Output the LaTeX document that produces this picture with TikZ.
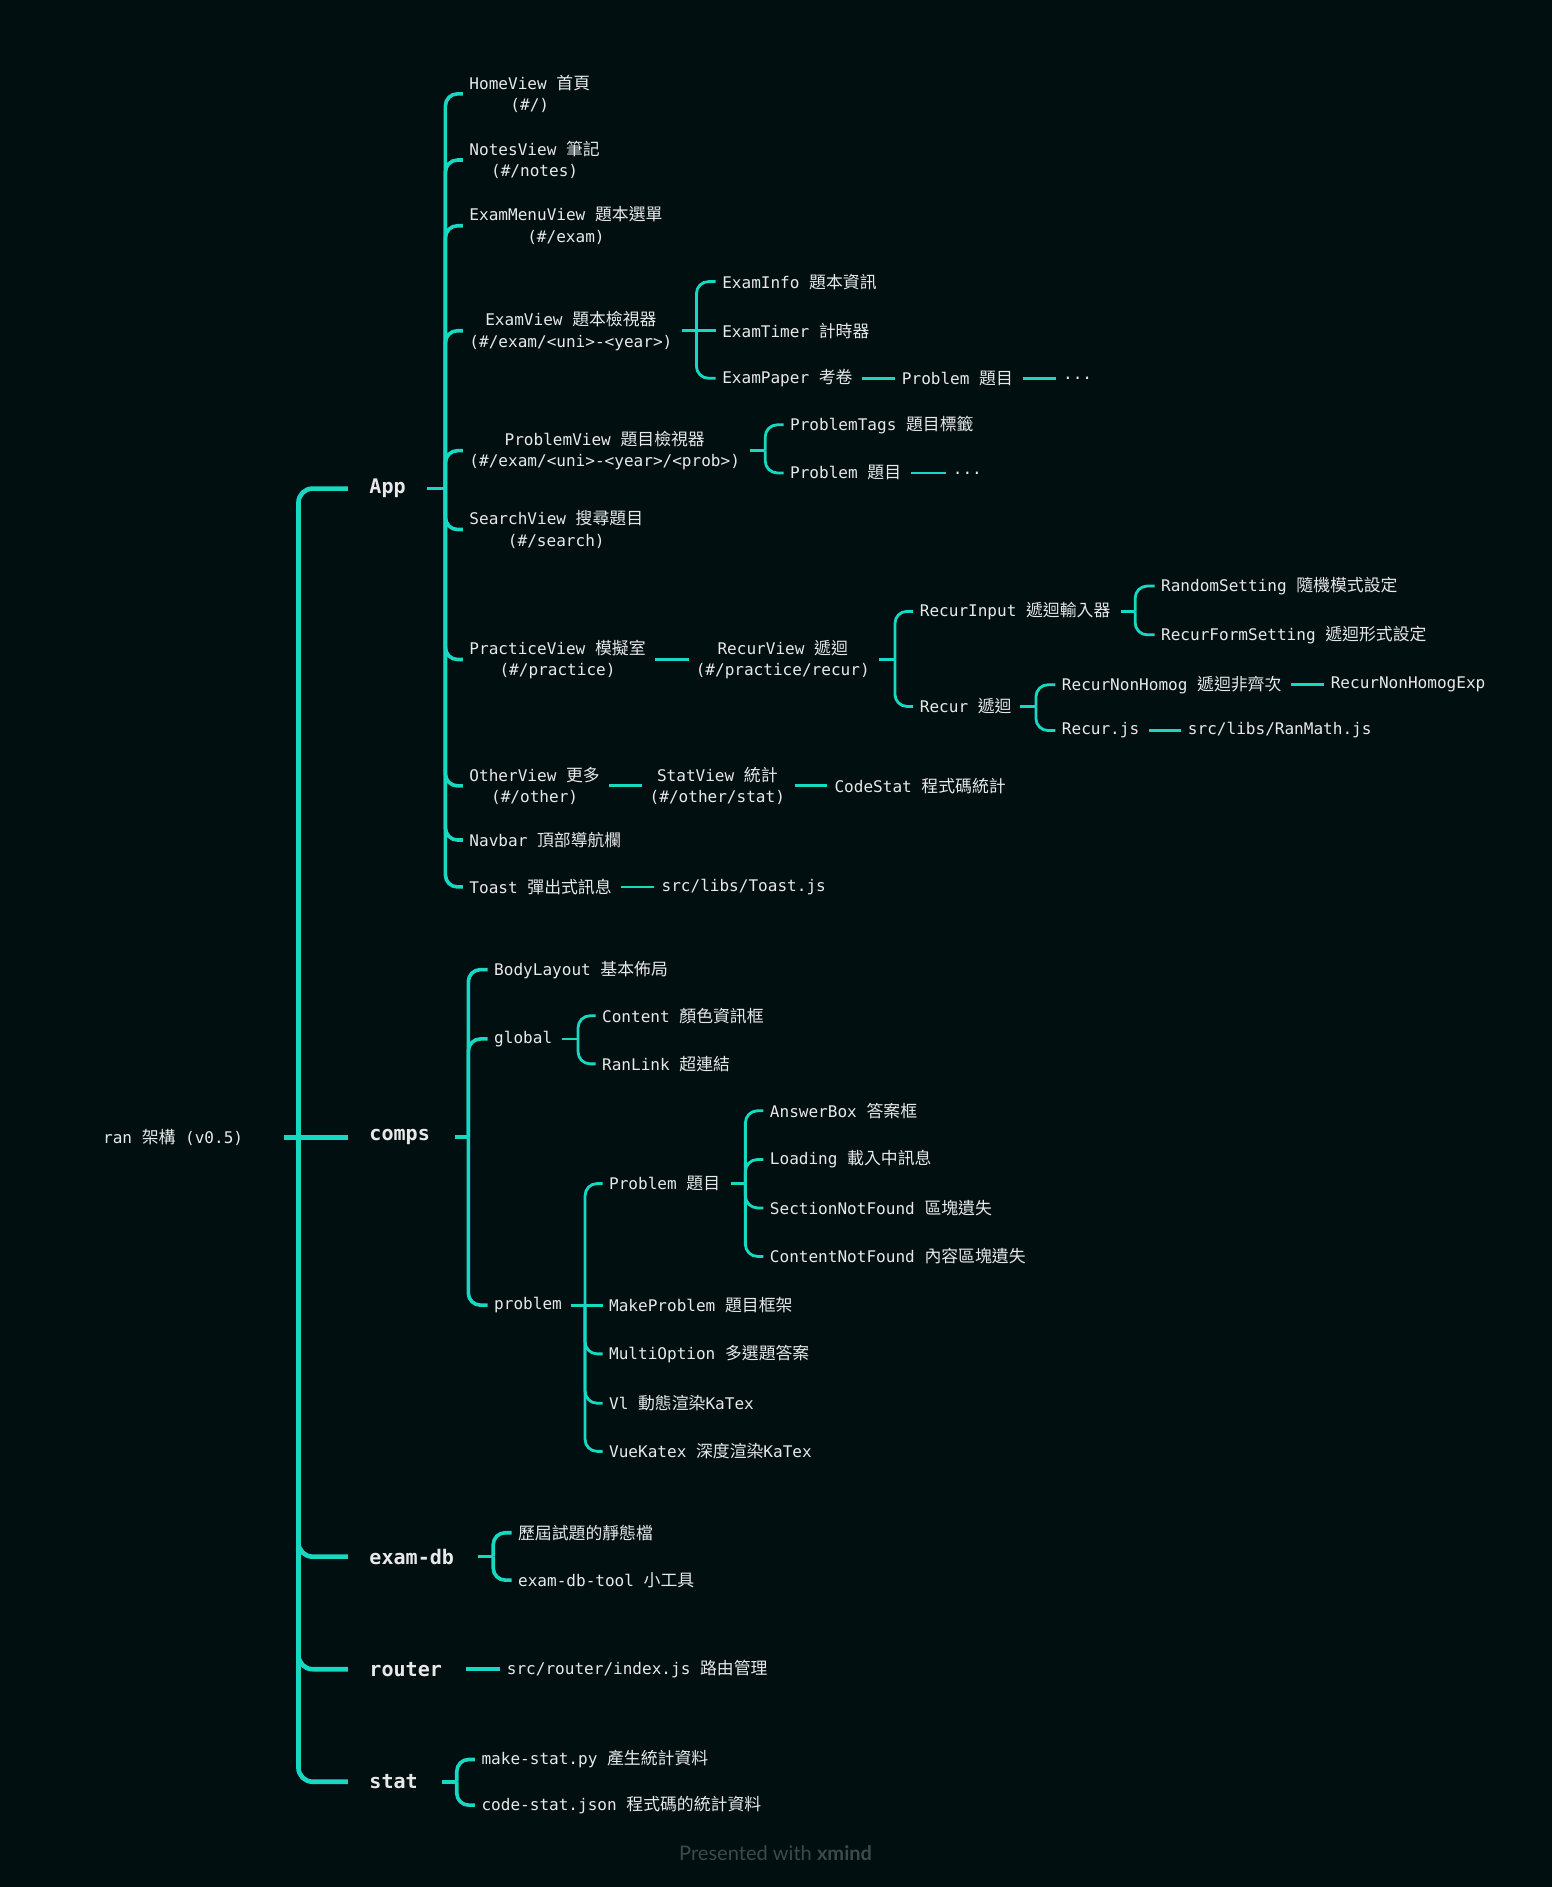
\documentclass[tikz,border=0pt]{standalone}
\usepackage{fontspec}
\setmainfont{DejaVu Sans Mono}
\newfontfamily\cjk[Scale=1.05]{Noto Sans CJK TC}
\newfontfamily\footfont{Lato}
\usetikzlibrary{calc}
\definecolor{bgc}{HTML}{020F11}
\definecolor{linec}{HTML}{17D9C2}
\definecolor{txtc}{HTML}{E8E8E8}
\definecolor{footc}{HTML}{3B4A4C}
\newcommand\zh[1]{{\cjk #1}}
\newcommand\stub[4]{\draw[#1] (#2.east) ++(#3,0) -- ++(#4,0) coordinate (#2-j);}
\newcommand\kid[6]{%
  \node[lbl] (#4) at ($(#2 |- 0,#3)+(#5,0)$) {#6};
  \draw[#1] (#2) |- ($(#4.west)+(-5.5,0)$);}
\newcommand\kidflat[5]{%
  \node[lbl] (#3) at ($(#2)+(#4,0)$) {#5};
  \draw[#1] (#2) -- ($(#3.west)+(-5.5,0)$);}
\newcommand\nextto[5]{%
  \node[lbl] (#3) at ($(#2.east)+(#4,0)$) {#5};
  \draw[#1] (#2.east) ++(8,0) -- ($(#3.west)+(-6,0)$);}
\begin{document}
\begin{tikzpicture}[x=0.6pt,y=-0.6pt,
  lbl/.style={font=\fontsize{8}{10.8}\selectfont, text=txtc, inner sep=0pt, outer sep=0pt, align=center, anchor=west},
  topl/.style={font=\bfseries\fontsize{10}{12}\selectfont, text=txtc, inner sep=0pt, outer sep=0pt, anchor=west},
  l1/.style={draw=linec, line width=2.3pt, rounded corners=7pt},
  l2/.style={draw=linec, line width=1.8pt, rounded corners=6pt},
  l3/.style={draw=linec, line width=1.4pt, rounded corners=6pt}]
\fill[bgc] (0,0) rectangle (1290,1568);
\useasboundingbox (0,0) rectangle (1290,1568);

% root and trunk
\node[lbl, anchor=east] (root) at (202,945) {ran \zh{架構} (v0.5)};
\draw[l1] (root.east) ++(34,0) -- ++(12,0) coordinate (jR);
\node[topl] (app) at ($(jR |- 0,406)+(59,0)$) {App};
\node[topl] (comps) at ($(jR)+(59,0)$) {comps};
\node[topl] (examdb) at ($(jR |- 0,1293.5)+(59,0)$) {exam-db};
\node[topl] (router) at ($(jR |- 0,1387)+(59,0)$) {router};
\node[topl] (stat) at ($(jR |- 0,1480.5)+(59,0)$) {stat};
\draw[l1] (jR) |- ($(app.west)+(-18,0)$);
\draw[l1] (jR) -- ($(comps.west)+(-18,0)$);
\draw[l1] (jR) |- ($(examdb.west)+(-18,0)$);
\draw[l1] (jR) |- ($(router.west)+(-18,0)$);
\draw[l1] (jR) |- ($(stat.west)+(-18,0)$);

% App
\stub{l2}{app}{18}{15}
\kid{l2}{app-j}{78}{home}{20}{HomeView \zh{首頁}\\(\#/)}
\kid{l2}{app-j}{133}{notes}{20}{NotesView \zh{筆記}\\(\#/notes)}
\kid{l2}{app-j}{187.6}{menu}{20}{ExamMenuView \zh{題本選單}\\(\#/exam)}
\kid{l2}{app-j}{274.8}{ev}{20}{ExamView \zh{題本檢視器}\\(\#/exam/<uni>-<year>)}
\kid{l2}{app-j}{374.5}{pv}{20}{ProblemView \zh{題目檢視器}\\(\#/exam/<uni>-<year>/<prob>)}
\kid{l2}{app-j}{440}{search}{20}{SearchView \zh{搜尋題目}\\(\#/search)}
\kid{l2}{app-j}{548}{practice}{20}{PracticeView \zh{模擬室}\\(\#/practice)}
\kid{l2}{app-j}{653}{other}{20}{OtherView \zh{更多}\\(\#/other)}
\kid{l2}{app-j}{698}{navbar}{20}{Navbar \zh{頂部導航欄}}
\kid{l2}{app-j}{737}{toast}{20}{Toast \zh{彈出式訊息}}

% ExamView
\stub{l3}{ev}{8}{12}
\kid{l3}{ev-j}{234}{einfo}{21.5}{ExamInfo \zh{題本資訊}}
\kidflat{l3}{ev-j}{etimer}{21.5}{ExamTimer \zh{計時器}}
\kid{l3}{ev-j}{314.3}{epaper}{21.5}{ExamPaper \zh{考卷}}
\nextto{l3}{epaper}{epprob}{41}{Problem \zh{題目}}
\nextto{l3}{epprob}{epdots}{41.7}{...}

% ProblemView
\stub{l3}{pv}{8}{13}
\kid{l3}{pv-j}{353}{ptags}{20.7}{ProblemTags \zh{題目標籤}}
\kid{l3}{pv-j}{393}{pprob}{20.7}{Problem \zh{題目}}
\nextto{l3}{pprob}{ppdots}{43}{...}

% Practice
\nextto{l3}{practice}{recurview}{41.7}{RecurView \zh{遞迴}\\(\#/practice/recur)}
\stub{l3}{recurview}{8}{13}
\kid{l3}{recurview-j}{508}{rinput}{20.7}{RecurInput \zh{遞迴輸入器}}
\kid{l3}{recurview-j}{587}{recur}{20.7}{Recur \zh{遞迴}}
\stub{l3}{rinput}{8.6}{12}
\kid{l3}{rinput-j}{487}{rand}{21.6}{RandomSetting \zh{隨機模式設定}}
\kid{l3}{rinput-j}{527.5}{rform}{21.6}{RecurFormSetting \zh{遞迴形式設定}}
\stub{l3}{recur}{7.3}{13}
\kid{l3}{recur-j}{569}{rnh}{21.6}{RecurNonHomog \zh{遞迴非齊次}}
\kid{l3}{recur-j}{607}{rjs}{21.6}{Recur.js}
\nextto{l3}{rnh}{rnhe}{41}{RecurNonHomogExp}
\nextto{l3}{rjs}{ranmath}{40.5}{src/libs/RanMath.js}

% Other
\nextto{l3}{other}{statview}{41.5}{StatView \zh{統計}\\(\#/other/stat)}
\nextto{l3}{statview}{codestat}{41.2}{CodeStat \zh{程式碼統計}}
\nextto{l3}{toast}{toastjs}{41.5}{src/libs/Toast.js}

% comps
\stub{l2}{comps}{21}{11}
\kid{l2}{comps-j}{805.7}{body}{21.5}{BodyLayout \zh{基本佈局}}
\kid{l2}{comps-j}{863.3}{global}{21.5}{global}
\kid{l2}{comps-j}{1084.5}{problem}{21.5}{problem}
\stub{l3}{global}{8}{13.5}
\kid{l3}{global-j}{844}{content}{20}{Content \zh{顏色資訊框}}
\kid{l3}{global-j}{884}{ranlink}{20}{RanLink \zh{超連結}}
\stub{l3}{problem}{7.3}{12}
\kid{l3}{problem-j}{983.5}{cprob}{20}{Problem \zh{題目}}
\kidflat{l3}{problem-j}{makep}{20}{MakeProblem \zh{題目框架}}
\kid{l3}{problem-j}{1125}{multi}{20}{MultiOption \zh{多選題答案}}
\kid{l3}{problem-j}{1166}{vl}{20}{Vl \zh{動態渲染}KaTex}
\kid{l3}{problem-j}{1206}{vuek}{20}{VueKatex \zh{深度渲染}KaTex}
\stub{l3}{cprob}{9}{12}
\kid{l3}{cprob-j}{923}{ansbox}{20.4}{AnswerBox \zh{答案框}}
\kid{l3}{cprob-j}{963.5}{loading}{20.4}{Loading \zh{載入中訊息}}
\kid{l3}{cprob-j}{1003.7}{snf}{20.4}{SectionNotFound \zh{區塊遺失}}
\kid{l3}{cprob-j}{1044}{cnf}{20.4}{ContentNotFound \zh{內容區塊遺失}}

% exam-db
\stub{l2}{examdb}{20}{12.6}
\kid{l2}{examdb-j}{1273.6}{edbone}{20.7}{\zh{歷屆試題的靜態檔}}
\kid{l2}{examdb-j}{1313}{edbtwo}{20.7}{exam-db-tool \zh{小工具}}

% router
\node[lbl] (routerjs) at ($(router.east)+(54,0)$) {src/router/index.js \zh{路由管理}};
\draw[l2] (router.east) ++(20,0) -- ($(routerjs.west)+(-6,0)$);

% stat
\stub{l2}{stat}{20}{12.4}
\kid{l2}{stat-j}{1462}{mks}{20.6}{make-stat.py \zh{產生統計資料}}
\kid{l2}{stat-j}{1500}{cst}{20.6}{code-stat.json \zh{程式碼的統計資料}}

% footer
\node[font=\footfont\fontsize{10}{12}\selectfont, text=footc, inner sep=0pt] (footer) at (644.5,1540) {Presented with \textbf{xmind}};
\end{tikzpicture}
\end{document}
